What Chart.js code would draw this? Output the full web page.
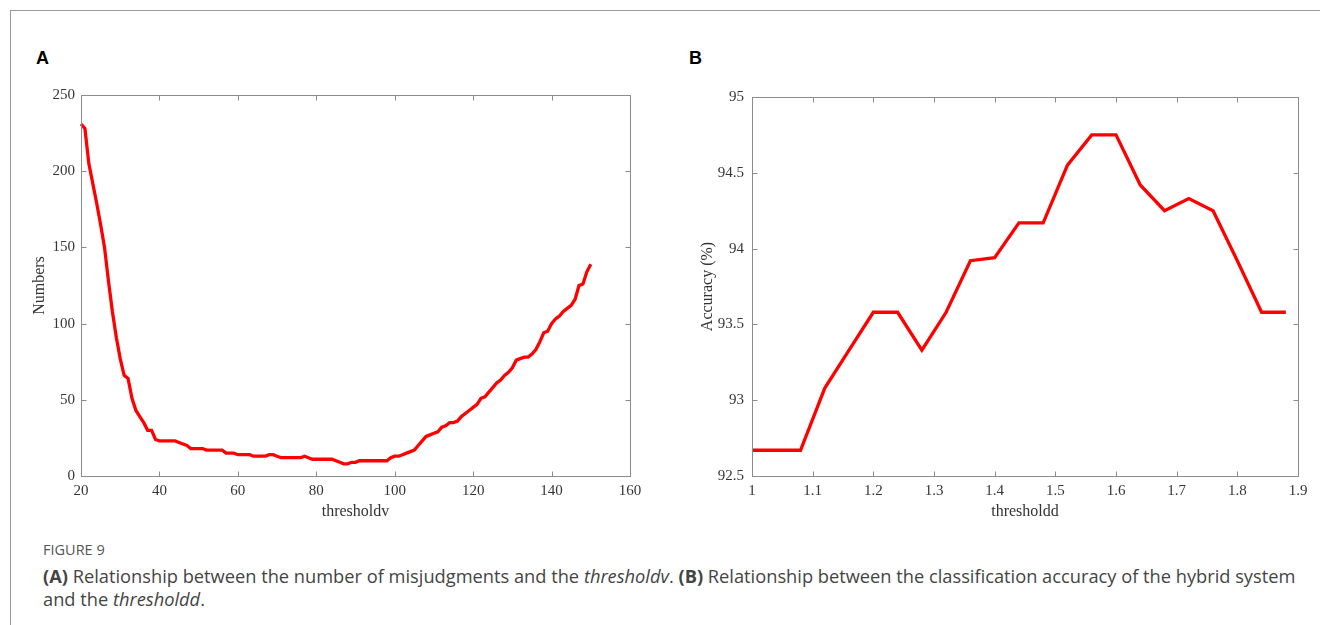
<!DOCTYPE html>
<html><head><meta charset="utf-8">
<script src="https://cdn.jsdelivr.net/npm/chart.js@4.4.0/dist/chart.umd.min.js"></script>
<style>
html,body{margin:0;padding:0;background:#fff;width:1320px;height:625px;overflow:hidden;position:relative;}
#frame{position:absolute;left:10px;top:10px;width:1330px;height:700px;border-top:1px solid #9a9a9a;border-left:1px solid #9a9a9a;}
.plabel{position:absolute;font-family:"Liberation Sans",Arial,sans-serif;font-weight:bold;font-size:18px;color:#000;line-height:20px;}
#wA{position:absolute;left:20px;top:80px;width:640px;height:450px;}
#wB{position:absolute;left:680px;top:80px;width:640px;height:450px;}
#fig{position:absolute;left:43px;top:540px;font-family:"Open Sans",sans-serif;font-size:14.5px;color:#555;line-height:20px;}
#cap{position:absolute;left:43px;top:564px;width:1275px;white-space:nowrap;font-family:"Open Sans",sans-serif;font-size:18.25px;line-height:23px;color:#444;}
</style></head>
<body>
<div id="frame"></div>
<div class="plabel" style="left:36px;top:48px;">A</div>
<div class="plabel" style="left:689px;top:48px;">B</div>
<div id="wA"><canvas id="cA" width="640" height="450"></canvas></div>
<div id="wB"><canvas id="cB" width="640" height="450"></canvas></div>
<div id="fig">FIGURE 9</div>
<div id="cap"><b>(A)</b> Relationship between the number of misjudgments and the <i>thresholdv</i>. <b>(B)</b> Relationship between the classification accuracy of the hybrid system<br>and the <i>thresholdd</i>.</div>
<script>
// ---- Panel A data ----
const thresholdv = [20,21,22,23,24,25,26,27,28,29,30,31,32,33,34,35,36,37,38,39,
  40,41,42,43,44,45,46,47,48,49,50,51,52,53,54,55,56,57,58,59,
  60,61,62,63,64,65,66,67,68,69,70,71,72,73,74,75,76,77,78,79,
  80,81,82,83,84,85,86,87,88,89,90,91,92,93,94,95,96,97,98,99,
  100,101,102,103,104,105,106,107,108,109,110,111,112,113,114,115,116,117,118,119,
  120,121,122,123,124,125,126,127,128,129,130,131,132,133,134,135,136,137,138,139,
  140,141,142,143,144,145,146,147,148,149,150];
const numbers = [231,228,205,192,179,165,150,128,108,91,77,66,64,51,43,39,35,30,30,24,
  23,23,23,23,23,22,21,20,18,18,18,18,17,17,17,17,17,15,15,15,
  14,14,14,14,13,13,13,13,14,14,13,12,12,12,12,12,12,13,12,11,
  11,11,11,11,11,10,9,8,8,9,9,10,10,10,10,10,10,10,10,12,
  13,13,14,15,16,17,20,23,26,27,28,29,32,33,35,35,36,39,41,43,
  45,47,51,52,55,58,61,63,66,68,71,76,77,78,78,80,83,88,94,95,
  100,103,105,108,110,112,116,125,126,134,139];
const xTicksA = {min:20, max:160, step:20};
const yTicksA = {min:0, max:250, step:50};

// ---- Panel B data ----
const thresholdd = [1.00,1.04,1.08,1.12,1.16,1.20,1.24,1.28,1.32,1.36,1.40,1.44,1.48,1.52,1.56,1.60,1.64,1.68,1.72,1.76,1.80,1.84,1.88];
const accuracy = [92.67,92.67,92.67,93.08,93.33,93.58,93.58,93.33,93.58,93.92,93.94,94.17,94.17,94.55,94.75,94.75,94.42,94.25,94.33,94.25,93.92,93.58,93.58];
const xTicksB = {min:1, max:1.9, step:0.1};
const yTicksB = {min:92.5, max:95, step:0.5};

const SERIF = '"Liberation Serif","Times New Roman",serif';
const TICK_COLOR = '#363636';
const fmt = v => String(parseFloat(Number(v).toFixed(3)));

const boxTicks = {
  id:'boxTicks',
  afterDraw(chart){
    const {ctx, chartArea:a, scales:{x,y}} = chart;
    ctx.save();
    ctx.strokeStyle = '#8c8c8c';
    ctx.lineWidth = 1;
    const l = Math.round(a.left)+0.5, r = Math.round(a.right)+0.5, t = Math.round(a.top)+0.5, b = Math.round(a.bottom)+0.5;
    ctx.strokeRect(l, t, r-l, b-t);
    const L = 5;
    ctx.beginPath();
    x.ticks.forEach(tk=>{
      const p = Math.round(x.getPixelForValue(tk.value))+0.5;
      ctx.moveTo(p,b); ctx.lineTo(p,b-L);
      ctx.moveTo(p,t); ctx.lineTo(p,t+L);
    });
    y.ticks.forEach(tk=>{
      const p = Math.round(y.getPixelForValue(tk.value))+0.5;
      ctx.moveTo(l,p); ctx.lineTo(l+L,p);
      ctx.moveTo(r,p); ctx.lineTo(r-L,p);
    });
    ctx.stroke();
    ctx.restore();
  }
};

function makeChart(id, xs, ys, xt, yt, xTitle, yTitle, yWidth, padRight, yTitlePad, yTickPad){
  const pts = xs.map((v,i)=>({x:v, y:ys[i]}));
  return new Chart(document.getElementById(id), {
    type:'line',
    data:{datasets:[{data:pts, borderColor:'#ff0000', borderWidth:3.3, pointRadius:0, tension:0, fill:false, clip:false}]},
    options:{
      responsive:false, animation:false, devicePixelRatio:1,
      layout:{padding:{left:0, top:15, right:padRight, bottom:0}},
      plugins:{legend:{display:false}, tooltip:{enabled:false}},
      scales:{
        x:{type:'linear', min:xt.min, max:xt.max,
          afterFit(s){ s.height = 54; },
          grid:{display:false, drawTicks:false}, border:{display:false},
          ticks:{stepSize:xt.step, color:TICK_COLOR, padding:6, maxRotation:0, autoSkip:false,
            font:{family:SERIF, size:15}, callback:fmt},
          title:{display:true, text:xTitle, color:'#333', font:{family:SERIF, size:16}, padding:{top:0,bottom:9}}
        },
        y:{type:'linear', min:yt.min, max:yt.max,
          afterFit(s){ s.width = yWidth; },
          grid:{display:false, drawTicks:false}, border:{display:false},
          ticks:{stepSize:yt.step, color:TICK_COLOR, padding:yTickPad, autoSkip:false,
            font:{family:SERIF, size:15}, callback:fmt},
          title:{display:true, text:yTitle, color:'#333', font:{family:SERIF, size:16}, padding:{top:yTitlePad,bottom:0}}
        }
      }
    },
    plugins:[boxTicks]
  });
}

makeChart('cA', thresholdv, numbers, xTicksA, yTicksA, 'thresholdv', 'Numbers', 61, 30, 10, 6);
makeChart('cB', thresholdd, accuracy, xTicksB, yTicksB, 'thresholdd', 'Accuracy (%)', 72, 22, 18, 8);
</script>
</body></html>
